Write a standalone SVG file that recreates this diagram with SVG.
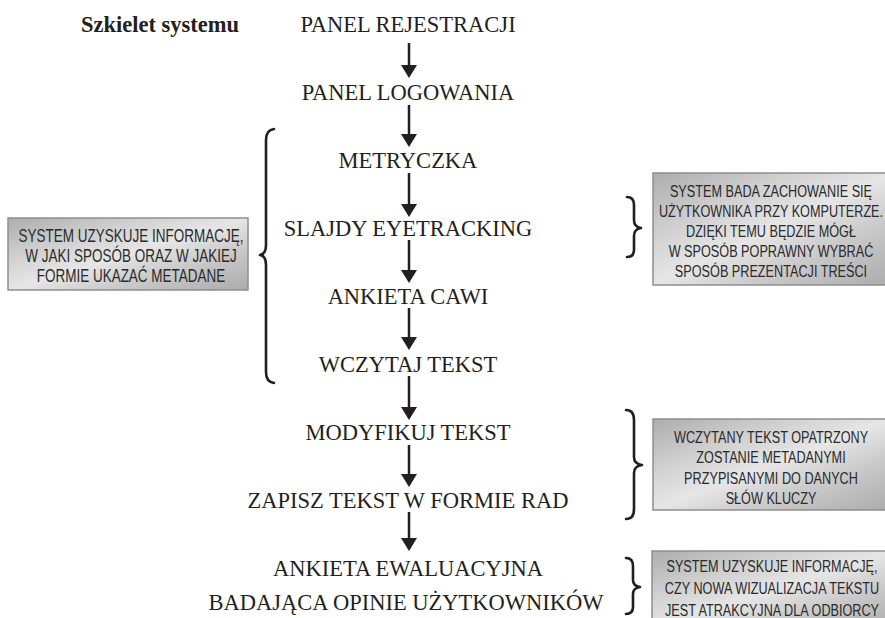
<svg xmlns="http://www.w3.org/2000/svg" width="885" height="618" viewBox="0 0 885 618">
<style>
.step{font-family:"Liberation Serif","Times New Roman",serif;font-size:22.5px;fill:#231f20;text-anchor:middle}
.title{font-family:"Liberation Serif","Times New Roman",serif;font-size:22.5px;font-weight:bold;fill:#231f20}
.note{font-family:"Liberation Sans",Arial,sans-serif;fill:#2a2a2a;text-anchor:middle}
.box{fill:url(#metal);stroke:#8e8e8e;stroke-width:1.5}
.arrow{stroke:#231f20;stroke-width:2.5;fill:none;marker-end:url(#head)}
.brace{stroke:#231f20;stroke-width:2.6;fill:none;stroke-linecap:round;stroke-linejoin:round}
</style>
<defs>
<linearGradient id="metal" x1="0" y1="0" x2="1" y2="1">
<stop offset="0" stop-color="#adadad"/>
<stop offset="0.3" stop-color="#d2d2d2"/>
<stop offset="0.5" stop-color="#e6e6e6"/>
<stop offset="0.7" stop-color="#cacaca"/>
<stop offset="1" stop-color="#ababab"/>
</linearGradient>
<marker id="head" markerUnits="userSpaceOnUse" viewBox="0 0 13 16" markerWidth="13" markerHeight="16" refX="1" refY="8" orient="auto">
<path d="M0,0 L13,8 L0,16 Z" fill="#231f20"/>
</marker>
</defs>

<g id="title"><text class="title" x="81" y="32">Szkielet systemu</text></g>

<g id="n1"><text class="step" x="408" y="32">PANEL REJESTRACJI</text></g>
<g id="n2"><text class="step" x="408" y="100">PANEL LOGOWANIA</text></g>
<g id="n3"><text class="step" x="408" y="168">METRYCZKA</text></g>
<g id="n4"><text class="step" x="408" y="236">SLAJDY EYETRACKING</text></g>
<g id="n5"><text class="step" x="408" y="304">ANKIETA CAWI</text></g>
<g id="n6"><text class="step" x="408" y="372">WCZYTAJ TEKST</text></g>
<g id="n7"><text class="step" x="408" y="440">MODYFIKUJ TEKST</text></g>
<g id="n8"><text class="step" x="408" y="508">ZAPISZ TEKST W FORMIE RAD</text></g>
<g id="n9"><text class="step" x="408" y="576">ANKIETA EWALUACYJNA</text><text class="step" x="406" y="610">BADAJĄCA OPINIE UŻYTKOWNIKÓW</text></g>

<g id="connectors">
<path class="arrow" d="M409,43 V66"/>
<path class="arrow" d="M409,105 V135"/>
<path class="arrow" d="M409,173 V205"/>
<path class="arrow" d="M409,240 V271"/>
<path class="arrow" d="M409,308 V338"/>
<path class="arrow" d="M409,376 V408"/>
<path class="arrow" d="M409,445 V475"/>
<path class="arrow" d="M409,512 V539"/>
</g>

<g id="braces">
<path class="brace" d="M274,129 Q266,130 266,140 L266,245 Q266,254 260,255 Q266,256 266,265 L266,372 Q266,382 274,383"/>
<path class="brace" d="M627,197 Q634,197 634,205 L634,220 Q634,227 641,228 Q634,229 634,236 L634,250 Q634,257 627,257"/>
<path class="brace" d="M626,410 Q634,410 634,420 L634,457 Q634,464 642,465 Q634,466 634,473 L634,509 Q634,519 626,519"/>
<path class="brace" d="M626,558 Q633,558 633,566 L633,580 Q633,586 640,587 Q633,588 633,594 L633,607 Q633,614 626,614"/>
</g>

<g id="note-left">
<rect class="box" x="8" y="218" width="240" height="72"/>
<g transform="translate(131,0) scale(0.75,1)">
<text class="note" font-size="18" x="0" y="242">SYSTEM UZYSKUJE INFORMACJĘ,</text>
<text class="note" font-size="18" x="0" y="262">W JAKI SPOSÓB ORAZ W JAKIEJ</text>
<text class="note" font-size="18" x="0" y="282">FORMIE UKAZAĆ METADANE</text>
</g>
</g>

<g id="note-1">
<rect class="box" x="653" y="173" width="240" height="112"/>
<g transform="translate(771,0) scale(0.745,1)">
<text class="note" font-size="17" x="0" y="197">SYSTEM BADA ZACHOWANIE SIĘ</text>
<text class="note" font-size="17" x="0" y="217">UŻYTKOWNIKA PRZY KOMPUTERZE.</text>
<text class="note" font-size="17" x="0" y="237">DZIĘKI TEMU BĘDZIE MÓGŁ</text>
<text class="note" font-size="17" x="0" y="257">W SPOSÓB POPRAWNY WYBRAĆ</text>
<text class="note" font-size="17" x="0" y="277">SPOSÓB PREZENTACJI TREŚCI</text>
</g>
</g>

<g id="note-2">
<rect class="box" x="653" y="419" width="240" height="91"/>
<g transform="translate(771,0) scale(0.745,1)">
<text class="note" font-size="17" x="0" y="443">WCZYTANY TEKST OPATRZONY</text>
<text class="note" font-size="17" x="0" y="463">ZOSTANIE METADANYMI</text>
<text class="note" font-size="17" x="0" y="484">PRZYPISANYMI DO DANYCH</text>
<text class="note" font-size="17" x="0" y="504">SŁÓW KLUCZY</text>
</g>
</g>

<g id="note-3">
<rect class="box" x="652" y="551" width="240" height="80"/>
<g transform="translate(772,0) scale(0.745,1)">
<text class="note" font-size="17" x="0" y="572">SYSTEM UZYSKUJE INFORMACJĘ,</text>
<text class="note" font-size="17" x="0" y="594">CZY NOWA WIZUALIZACJA TEKSTU</text>
<text class="note" font-size="17" x="0" y="616">JEST ATRAKCYJNA DLA ODBIORCY</text>
</g>
</g>
</svg>
